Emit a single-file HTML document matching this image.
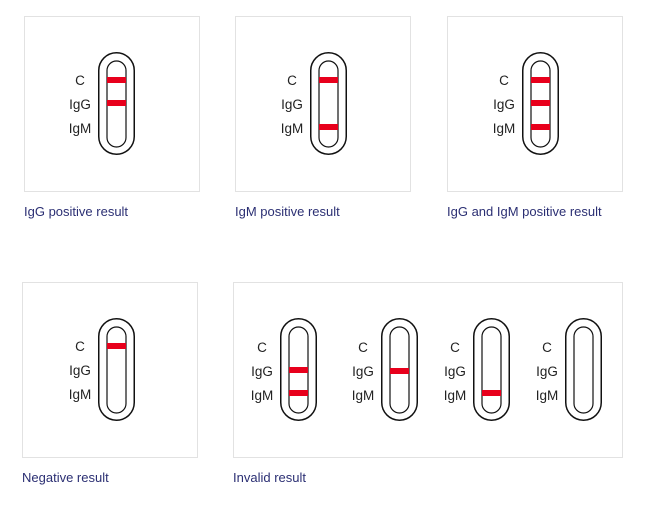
<!DOCTYPE html>
<html><head><meta charset="utf-8"><style>
body{margin:0;background:#fff;}
svg{display:block;}
</style></head><body>
<svg width="650" height="505" xmlns="http://www.w3.org/2000/svg" font-family="Liberation Sans, sans-serif">
<g fill="none" stroke="#e2e2e2" stroke-width="1">
<rect x="24.5" y="16.5" width="175" height="175"/>
<rect x="235.5" y="16.5" width="175" height="175"/>
<rect x="447.5" y="16.5" width="175" height="175"/>
<rect x="22.5" y="282.5" width="175" height="175"/>
<rect x="233.5" y="282.5" width="389" height="175"/>
</g>
<defs>
<g id="s">
<rect x="0.75" y="0.75" width="35.5" height="101.5" rx="17.75" fill="none" stroke="#111" stroke-width="1.5"/>
<rect x="9" y="9" width="19" height="86" rx="9.5" fill="none" stroke="#111" stroke-width="1.2"/>
</g>
<g id="l" font-size="13.5" fill="#222" text-anchor="middle">
<text x="0" y="0">C</text><text x="0" y="24">IgG</text><text x="0" y="48">IgM</text>
</g>
</defs>
<g transform="translate(98,52)"><use href="#s"/><rect x="9" y="25" width="19" height="6" fill="#e8001c"/><rect x="9" y="48" width="19" height="6" fill="#e8001c"/></g>
<use href="#l" transform="translate(80,85)"/>
<g transform="translate(310,52)"><use href="#s"/><rect x="9" y="25" width="19" height="6" fill="#e8001c"/><rect x="9" y="72" width="19" height="6" fill="#e8001c"/></g>
<use href="#l" transform="translate(292,85)"/>
<g transform="translate(522,52)"><use href="#s"/><rect x="9" y="25" width="19" height="6" fill="#e8001c"/><rect x="9" y="48" width="19" height="6" fill="#e8001c"/><rect x="9" y="72" width="19" height="6" fill="#e8001c"/></g>
<use href="#l" transform="translate(504,85)"/>
<g transform="translate(98,318)"><use href="#s"/><rect x="9" y="25" width="19" height="6" fill="#e8001c"/></g>
<use href="#l" transform="translate(80,351)"/>
<g transform="translate(280,318)"><use href="#s"/><rect x="9" y="49" width="19" height="6" fill="#e8001c"/><rect x="9" y="72" width="19" height="6" fill="#e8001c"/></g>
<use href="#l" transform="translate(262,352)"/>
<g transform="translate(381,318)"><use href="#s"/><rect x="9" y="50" width="19" height="6" fill="#e8001c"/></g>
<use href="#l" transform="translate(363,352)"/>
<g transform="translate(473,318)"><use href="#s"/><rect x="9" y="72" width="19" height="6" fill="#e8001c"/></g>
<use href="#l" transform="translate(455,352)"/>
<g transform="translate(565,318)"><use href="#s"/></g>
<use href="#l" transform="translate(547,352)"/>
<g font-size="13" fill="#2b2f73">
<text x="24" y="216">IgG positive result</text>
<text x="235" y="216">IgM positive result</text>
<text x="447" y="216">IgG and IgM positive result</text>
<text x="22" y="482">Negative result</text>
<text x="233" y="482">Invalid result</text>
</g>
</svg>
</body></html>
